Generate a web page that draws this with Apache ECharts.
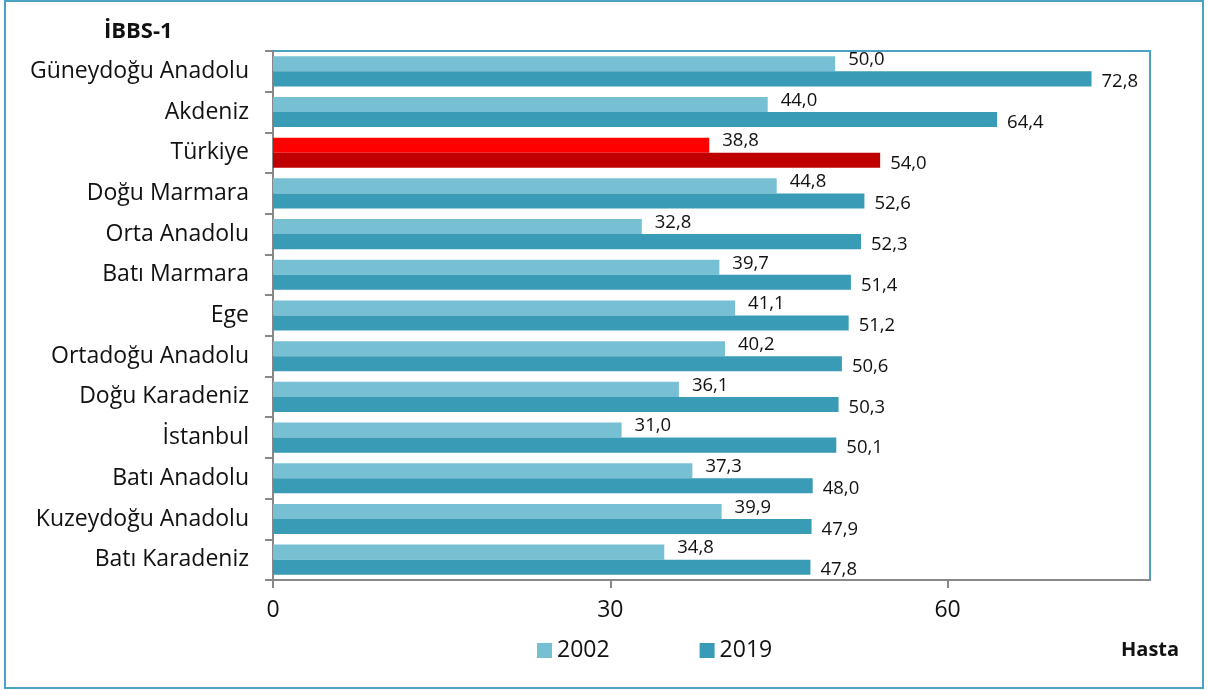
<!DOCTYPE html>
<html>
<head>
<meta charset="utf-8">
<script src="https://cdn.jsdelivr.net/npm/echarts@6/dist/echarts.min.js"></script>
<style>
	html, body { margin: 0; padding: 0; background: #fff; }
	#tuxing { width: 1208px; height: 690px; }
</style>
</head>
<body>
<div id="tuxing"></div>
<script>
	var categories = ['Güneydoğu Anadolu', 'Akdeniz', 'Türkiye', 'Doğu Marmara', 'Orta Anadolu', 'Batı Marmara', 'Ege',
		'Ortadoğu Anadolu', 'Doğu Karadeniz', 'İstanbul', 'Batı Anadolu', 'Kuzeydoğu Anadolu', 'Batı Karadeniz'];
	var values2002 = [50.0, 44.0, 38.8, 44.8, 32.8, 39.7, 41.1, 40.2, 36.1, 31.0, 37.3, 39.9, 34.8];
	var values2019 = [72.8, 64.4, 54.0, 52.6, 52.3, 51.4, 51.2, 50.6, 50.3, 50.1, 48.0, 47.9, 47.8];
	var highlight = 'Türkiye';

	var fontFam = '"Open Sans", "Noto Sans", sans-serif';

	// renkleri ayarla, Türkiye kırmızı
	function buildData(vals, redColor) {
		return vals.map(function(v, i) {
			var item = { value: v };
			if (categories[i] == highlight) {
				item.itemStyle = { color: redColor };
			}
			return item;
		});
	}

	function fmt(p) {
		return p.value.toFixed(1).replace('.', ',');
	}

	var myChart = echarts.init(document.getElementById('tuxing'));

	var option = {
		animation: false,
		textStyle: { fontFamily: fontFam },
		grid: {
			left: 273,
			right: 58,
			top: 51,
			bottom: 110,
			show: true,
			borderColor: '#4aa3c3',
			borderWidth: 2
		},
		graphic: [{
			type: 'rect',
			shape: { x: 5, y: 1, width: 1198, height: 687 },
			style: { fill: 'none', stroke: '#4aa3c3', lineWidth: 2 }
		}, {
			type: 'text',
			left: 104,
			top: 21,
			style: { text: 'İBBS-1', font: 'bold 22px ' + fontFam, fill: '#111' }
		}, {
			type: 'text',
			left: 1121,
			top: 640,
			style: { text: 'Hasta', font: 'bold 20px ' + fontFam, fill: '#111' }
		}],
		legend: {
			left: 532,
			top: 634,
			itemWidth: 15,
			itemHeight: 15,
			itemGap: 90,
			icon: 'rect',
			textStyle: { fontSize: 23, color: '#111', fontFamily: fontFam },
			data: ['2002', '2019']
		},
		xAxis: {
			type: 'value',
			min: 0,
			max: 78,
			interval: 30,
			splitLine: { show: false },
			axisLine: { show: true, lineStyle: { color: '#888', width: 2 } },
			axisTick: { show: true, length: 8, lineStyle: { color: '#888', width: 2 } },
			axisLabel: {
				fontSize: 23,
				color: '#111',
				margin: 19,
				showMaxLabel: false,
				formatter: function(v) { return v % 30 == 0 ? v : ''; }
			}
		},
		yAxis: {
			type: 'category',
			inverse: true,
			data: categories,
			axisLine: { show: true, lineStyle: { color: '#888', width: 2 } },
			axisTick: { show: true, length: 8, lineStyle: { color: '#888', width: 2 } },
			axisLabel: { fontSize: 23, color: '#111', margin: 24 }
		},
		series: [{
			name: '2002',
			type: 'bar',
			color: '#77c0d4',
			barGap: '0%',
			barCategoryGap: '26%',
			data: buildData(values2002, '#ff0000'),
			label: {
				show: true,
				position: 'right',
				distance: 13,
				offset: [0, -4],
				fontSize: 18.5,
				color: '#111',
				formatter: fmt
			}
		}, {
			name: '2019',
			type: 'bar',
			color: '#3a9bb6',
			barGap: '0%',
			barCategoryGap: '26%',
			data: buildData(values2019, '#c00000'),
			label: {
				show: true,
				position: 'right',
				distance: 10,
				offset: [0, 3],
				fontSize: 18.5,
				color: '#111',
				formatter: fmt
			}
		}]
	};

	myChart.setOption(option);
</script>
</body>
</html>
